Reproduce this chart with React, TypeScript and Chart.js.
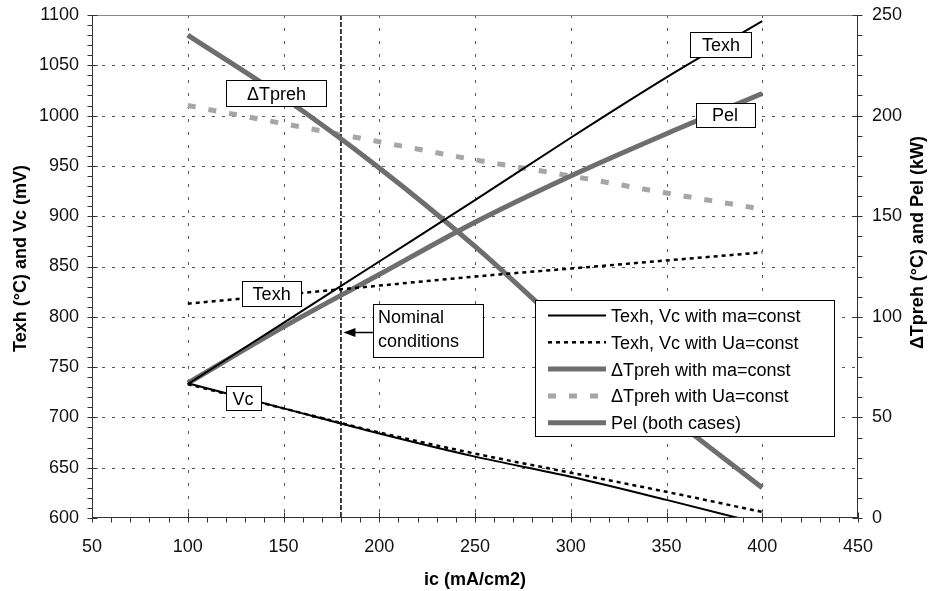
import React, { useEffect, useRef } from "react";
import { Chart, registerables } from "chart.js";

Chart.register(...registerables);

// Current density ic (mA/cm2)
const icValues = [100, 150, 200, 250, 300, 350, 400];
// Exhaust temperature Texh (°C) - left axis
const texhMa = [733, 794, 855, 916, 978, 1038, 1094];
const texhUa = [813, 822, 831, 840, 848, 856, 864];
// Cell voltage Vc (mV) - left axis
const vcMa = [734, 709, 684, 661, 641, 618, 594];
const vcUa = [733, 709, 685, 664, 645, 626, 606];
// Preheating temperature difference ΔTpreh (°C) - right axis
const dTprehMa = [240, 209, 174, 135, 92, 52, 15];
const dTprehUa = [205, 196, 187, 178, 170, 161.5, 153.5];
// Electric power Pel (kW) - right axis
const pelValues = [67, 95, 121, 147, 170, 191, 211];

// Nominal operating point
const nominalIc = 180;

// Tick labels
const xTickLabels = [50, 100, 150, 200, 250, 300, 350, 400, 450];
const leftTickLabels = [600, 650, 700, 750, 800, 850, 900, 950, 1000, 1050, 1100];
const rightTickLabels = [0, 50, 100, 150, 200, 250];

const xTitle = "ic (mA/cm2)";
const leftTitle = "Texh (°C) and Vc (mV)";
const rightTitle = "ΔTpreh (°C) and Pel (kW)";

const legendItems = [
  { text: "Texh, Vc with ma=const", dataset: 0 },
  { text: "Texh, Vc with Ua=const", dataset: 2 },
  { text: "ΔTpreh with ma=const", dataset: 5 },
  { text: "ΔTpreh with Ua=const", dataset: 6 },
  { text: "Pel (both cases)", dataset: 4 },
];

// Curve labels, anchored in (ic, left-axis) units
const curveLabels = [
  { text: "ΔTpreh", ic: 146.3, v: 1022.4, w: 100, h: 26 },
  { text: "Texh", ic: 378.4, v: 1071, w: 61, h: 25 },
  { text: "Pel", ic: 380.6, v: 1001, w: 59, h: 24 },
  { text: "Texh", ic: 143.8, v: 823.3, w: 59, h: 25 },
  { text: "Vc", ic: 128.9, v: 719, w: 35, h: 24 },
];
const nominalNote = { lines: ["Nominal", "conditions"], ic: 225.4, v: 786.4, w: 110, h: 53 };

const FONT_FAMILY = '"Liberation Sans", Arial, Helvetica, sans-serif';
const DARK_GRAY = "#6e6e6e";
const LIGHT_GRAY = "#a6a6a6";

const pts = (vals: number[]) => icValues.map((x, i) => ({ x, y: vals[i] }));

function seg(ctx: CanvasRenderingContext2D, x1: number, y1: number, x2: number, y2: number) {
  ctx.beginPath();
  ctx.moveTo(x1, y1);
  ctx.lineTo(x2, y2);
  ctx.stroke();
}

function box(ctx: CanvasRenderingContext2D, x: number, y: number, w: number, h: number) {
  const rx = Math.round(x) + 0.5;
  const ry = Math.round(y) + 0.5;
  ctx.setLineDash([]);
  ctx.fillStyle = "#fff";
  ctx.fillRect(rx, ry, Math.round(w), Math.round(h));
  ctx.strokeStyle = "#000";
  ctx.lineWidth = 1;
  ctx.strokeRect(rx, ry, Math.round(w), Math.round(h));
}

const decorations = {
  id: "decorations",
  beforeDatasetsDraw(chart: any) {
    const { ctx, chartArea: a, scales } = chart;
    const xs = scales.x;
    const ys = scales.y;
    ctx.save();
    ctx.strokeStyle = "#555";
    ctx.lineWidth = 1;
    // horizontal dotted grid
    ctx.setLineDash([3, 7]);
    leftTickLabels.slice(1, -1).forEach((v) => {
      const py = Math.round(ys.getPixelForValue(v)) + 0.5;
      seg(ctx, a.left, py, a.right, py);
    });
    // vertical dotted grid
    ctx.setLineDash([3, 10]);
    xTickLabels.slice(1, -1).forEach((v) => {
      const px = Math.round(xs.getPixelForValue(v)) + 0.5;
      seg(ctx, px, a.top, px, a.bottom);
    });
    // nominal conditions line
    ctx.strokeStyle = "#000";
    ctx.lineWidth = 1.5;
    ctx.setLineDash([5, 2]);
    const nx = xs.getPixelForValue(nominalIc);
    seg(ctx, nx, a.top, nx, a.bottom);
    ctx.restore();
  },
  afterDatasetsDraw(chart: any) {
    const { ctx, chartArea: a, scales } = chart;
    const xs = scales.x;
    const ys = scales.y;
    const yr = scales.y1;
    ctx.save();
    ctx.setLineDash([]);

    // plot frame
    ctx.lineWidth = 1;
    ctx.strokeStyle = "#888";
    seg(ctx, a.left, a.top + 0.5, a.right, a.top + 0.5);
    ctx.strokeStyle = "#333";
    seg(ctx, a.left + 0.5, a.top, a.left + 0.5, a.bottom);
    seg(ctx, a.right - 0.5, a.top, a.right - 0.5, a.bottom);
    seg(ctx, a.left, a.bottom - 0.5, a.right, a.bottom - 0.5);

    // major / minor tick marks
    const L = Math.round(a.left) + 0.5;
    const R = Math.round(a.right) - 0.5;
    const B = Math.round(a.bottom) - 0.5;
    for (let v = leftTickLabels[0]; v <= leftTickLabels[leftTickLabels.length - 1]; v += 10) {
      const py = Math.round(ys.getPixelForValue(v)) + 0.5;
      const major = v % 50 === 0;
      seg(ctx, L - 5, py, major ? L + 5 : L, py);
    }
    for (let v = rightTickLabels[0]; v <= rightTickLabels[rightTickLabels.length - 1]; v += 10) {
      const py = Math.round(yr.getPixelForValue(v)) + 0.5;
      const major = v % 50 === 0;
      seg(ctx, major ? R - 5 : R, py, R + 5, py);
    }
    for (let v = xTickLabels[0]; v <= xTickLabels[xTickLabels.length - 1]; v += 10) {
      const px = Math.round(xs.getPixelForValue(v)) + 0.5;
      const major = v % 50 === 0;
      seg(ctx, px, major ? B - 5 : B, px, B + 5);
    }

    // curve labels
    ctx.font = `18px ${FONT_FAMILY}`;
    ctx.textBaseline = "alphabetic";
    curveLabels.forEach((l) => {
      const cx = xs.getPixelForValue(l.ic);
      const cy = ys.getPixelForValue(l.v);
      box(ctx, cx - l.w / 2, cy - l.h / 2, l.w, l.h);
      ctx.fillStyle = "#000";
      ctx.textAlign = "center";
      ctx.fillText(l.text, cx, cy + 6.5);
    });

    // nominal conditions note with arrow
    const ncx = xs.getPixelForValue(nominalNote.ic);
    const ncy = ys.getPixelForValue(nominalNote.v);
    const bx = ncx - nominalNote.w / 2;
    const by = ncy - nominalNote.h / 2;
    box(ctx, bx, by, nominalNote.w, nominalNote.h);
    ctx.fillStyle = "#000";
    ctx.textAlign = "left";
    nominalNote.lines.forEach((t, i) => ctx.fillText(t, bx + 5, by + 19.5 + i * 24));
    const tipX = xs.getPixelForValue(nominalIc) + 2.5;
    const ay = Math.round(ncy + 2) + 0.5;
    ctx.strokeStyle = "#000";
    ctx.lineWidth = 1.5;
    seg(ctx, tipX + 10, ay, bx, ay);
    ctx.beginPath();
    ctx.moveTo(tipX, ay);
    ctx.lineTo(tipX + 12, ay - 4.5);
    ctx.lineTo(tipX + 12, ay + 4.5);
    ctx.closePath();
    ctx.fill();

    // legend
    const lx = a.left + 443;
    const ly = a.top + 285;
    box(ctx, lx, ly, 299, 136);
    legendItems.forEach((item, i) => {
      const ds = chart.data.datasets[item.dataset];
      const ry = ly + 15.5 + i * 26.8;
      ctx.strokeStyle = ds.borderColor;
      ctx.lineWidth = ds.borderWidth;
      ctx.setLineDash(ds.borderDash || []);
      ctx.lineCap = "butt";
      seg(ctx, lx + 13, ry, lx + 71, ry);
      ctx.setLineDash([]);
      ctx.fillStyle = "#000";
      ctx.textAlign = "left";
      ctx.fillText(item.text, lx + 76, ry + 6.5);
    });

    // axis titles
    ctx.font = `bold 18px ${FONT_FAMILY}`;
    ctx.fillStyle = "#000";
    ctx.textAlign = "center";
    ctx.textBaseline = "middle";
    ctx.fillText(xTitle, (a.left + a.right) / 2, a.bottom + 62);
    const midY = (a.top + a.bottom) / 2;
    ctx.save();
    ctx.translate(21.5, midY - 8);
    ctx.rotate(-Math.PI / 2);
    ctx.fillText(leftTitle, 0, 0);
    ctx.restore();
    ctx.save();
    ctx.translate(a.right + 60, midY - 24);
    ctx.rotate(-Math.PI / 2);
    ctx.fillText(rightTitle, 0, 0);
    ctx.restore();

    ctx.restore();
  },
};

const tickFont = { family: FONT_FAMILY, size: 18 };
const plainLabel = (v: any) => String(v);

export default function App() {
  const canvasRef = useRef<HTMLCanvasElement>(null);

  useEffect(() => {
    if (!canvasRef.current) return;
    const base = {
      pointRadius: 0,
      fill: false,
      cubicInterpolationMode: "monotone" as const,
      borderCapStyle: "butt" as const,
    };
    const chart = new Chart(canvasRef.current, {
      type: "line",
      data: {
        datasets: [
          { ...base, label: "Texh (ma=const)", data: pts(texhMa), yAxisID: "y", borderColor: "#000", borderWidth: 2 },
          { ...base, label: "Vc (ma=const)", data: pts(vcMa), yAxisID: "y", borderColor: "#000", borderWidth: 2 },
          { ...base, label: "Texh (Ua=const)", data: pts(texhUa), yAxisID: "y", borderColor: "#000", borderWidth: 2.5, borderDash: [4, 4] },
          { ...base, label: "Vc (Ua=const)", data: pts(vcUa), yAxisID: "y", borderColor: "#000", borderWidth: 2.5, borderDash: [4, 4] },
          { ...base, label: "Pel", data: pts(pelValues), yAxisID: "y1", borderColor: DARK_GRAY, borderWidth: 5 },
          { ...base, label: "ΔTpreh (ma=const)", data: pts(dTprehMa), yAxisID: "y1", borderColor: DARK_GRAY, borderWidth: 5 },
          { ...base, label: "ΔTpreh (Ua=const)", data: pts(dTprehUa), yAxisID: "y1", borderColor: LIGHT_GRAY, borderWidth: 5, borderDash: [8, 13] },
        ],
      },
      options: {
        animation: false,
        responsive: true,
        maintainAspectRatio: false,
        layout: { padding: { top: 15, left: 0, right: 0, bottom: 0 } },
        plugins: { legend: { display: false }, tooltip: { enabled: false } },
        events: [],
        scales: {
          x: {
            type: "linear",
            min: xTickLabels[0],
            max: xTickLabels[xTickLabels.length - 1],
            grid: { display: false, drawTicks: false },
            border: { display: false },
            ticks: { stepSize: 50, padding: 18, font: tickFont, color: "#111", maxRotation: 0, callback: plainLabel },
            afterFit: (s: any) => { s.height = 73; s.paddingLeft = 0; s.paddingRight = 0; },
          },
          y: {
            type: "linear",
            position: "left",
            min: leftTickLabels[0],
            max: leftTickLabels[leftTickLabels.length - 1],
            grid: { display: false, drawTicks: false },
            border: { display: false },
            ticks: { stepSize: 50, padding: 13, font: tickFont, color: "#111", callback: plainLabel },
            afterFit: (s: any) => { s.width = 92; s.paddingTop = 0; s.paddingBottom = 0; },
          },
          y1: {
            type: "linear",
            position: "right",
            min: rightTickLabels[0],
            max: rightTickLabels[rightTickLabels.length - 1],
            grid: { display: false, drawTicks: false },
            border: { display: false },
            ticks: { stepSize: 50, padding: 14, font: tickFont, color: "#111", callback: plainLabel },
            afterFit: (s: any) => { s.width = 73; s.paddingTop = 0; s.paddingBottom = 0; },
          },
        },
      } as any,
      plugins: [decorations],
    });
    return () => chart.destroy();
  }, []);

  return (
    <div style={{ position: "fixed", left: 0, top: 0, width: 931, height: 591, background: "#fff" }}>
      <canvas ref={canvasRef} />
    </div>
  );
}
